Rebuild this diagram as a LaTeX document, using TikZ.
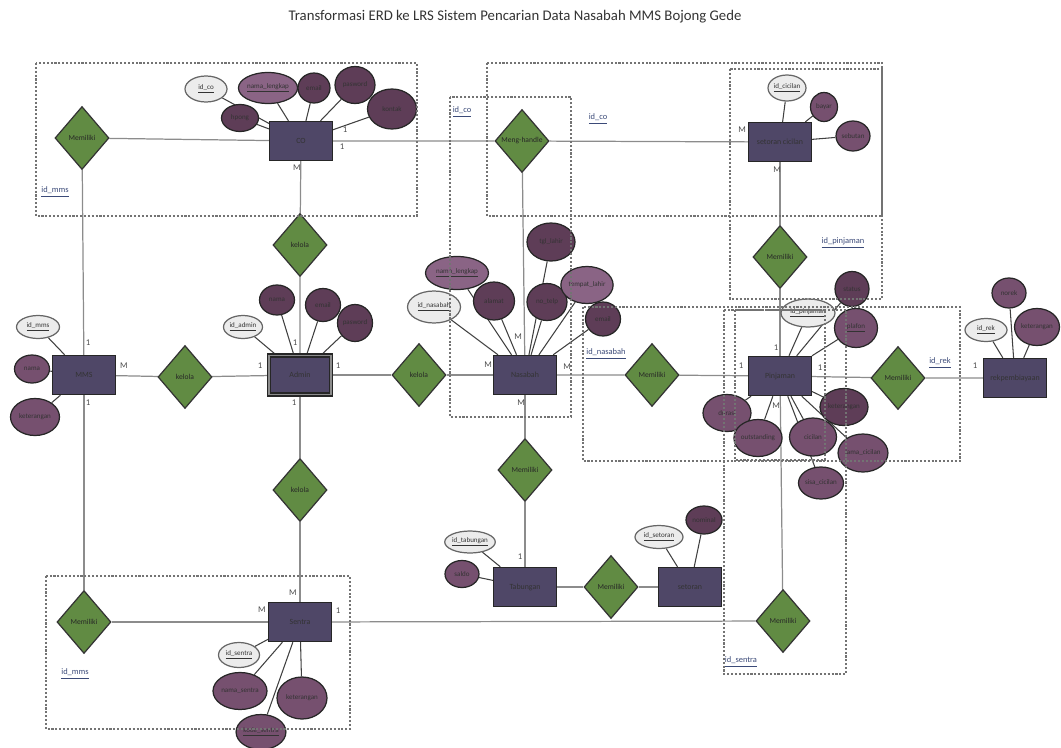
\documentclass[tikz,border=0pt]{standalone}
\usepackage{fontspec}
\setmainfont{Carlito}
\usetikzlibrary{shapes.geometric,backgrounds}
\definecolor{entfill}{HTML}{4F4767}
\definecolor{relfill}{HTML}{618B43}
\definecolor{attfill}{HTML}{76506F}
\definecolor{attdark}{HTML}{5E3D57}
\definecolor{attlight}{HTML}{8A6485}
\definecolor{keyfill}{HTML}{ECECEC}
\definecolor{linegray}{HTML}{8C8C8C}
\definecolor{fkblue}{HTML}{3B4A78}
\tikzset{
    entity/.style={rectangle, draw=black!85, line width=0.8pt, fill=entfill, minimum width=1.25cm, minimum height=0.78cm, inner sep=0pt, font=\fontsize{4.5}{5}\selectfont, text=black!80},
    rel/.style={diamond, draw=black!80, line width=0.7pt, fill=relfill, minimum width=1.08cm, minimum height=1.26cm, inner sep=0pt, font=\fontsize{4.3}{5}\selectfont, text=black!85},
    attr/.style={ellipse, draw=black!85, line width=0.7pt, fill=attfill, inner sep=0pt, font=\fontsize{4}{5}\selectfont, text=black!80},
    keyattr/.style={attr, fill=keyfill, draw=black!60},
    sz/.style 2 args={minimum width=#1*0.02cm, minimum height=#2*0.02cm},
    link/.style={draw=linegray, line width=0.7pt},
    attlink/.style={draw=black!75, line width=0.6pt},
    card/.style={font=\fontsize{5}{6}\selectfont, text=black!70, inner sep=0pt},
    fk/.style={font=\fontsize{4.8}{6}\selectfont, text=fkblue, inner sep=0pt},
    area/.style={draw=black!55, dash pattern=on 1.2pt off 1pt, line width=0.6pt}
}
\begin{document}
\begin{tikzpicture}[x=0.02cm, y=-0.02cm]
    \useasboundingbox (0,0) rectangle (1061,747);
    \node[font=\fontsize{8.4}{10}\selectfont, text=black!80] (ttl) at (515,17) {Transformasi ERD ke LRS Sistem Pencarian Data Nasabah MMS Bojong Gede};

    % Entities
    \node[entity] (co) at (301,141) {CO};
    \node[entity] (setcic) at (780,142) {setoran cicilan};
    \node[entity] (mms) at (84,375) {MMS};
    \node[entity, double=black!45, double distance=0.9pt] (admin) at (300,375) {Admin};
    \node[entity] (nasabah) at (525,375) {Nasabah};
    \node[entity] (pinjaman) at (780,376) {Pinjaman};
    \node[entity] (rekpem) at (1015,378) {rekpembiayaan};
    \node[entity] (tabungan) at (525,587) {Tabungan};
    \node[entity] (setoran) at (690,587) {setoran};
    \node[entity] (sentra) at (300,622) {Sentra};

    % Relations
    \node[rel] (memCo) at (82,138) {Memiliki};
    \node[rel] (handle) at (522,141) {Meng-handle};
    \node[rel] (kelCo) at (300,245) {kelola};
    \node[rel] (memSet) at (780,257) {Memiliki};
    \node[rel] (kelMms) at (185,377) {kelola};
    \node[rel] (kelNas) at (419,375) {kelola};
    \node[rel] (memNas) at (652,375) {Memiliki};
    \node[rel] (memRek) at (898,378) {Memiliki};
    \node[rel] (kelSen) at (300,490) {kelola};
    \node[rel] (memTab) at (525,470) {Memiliki};
    \node[rel] (memSetor) at (611,587) {Memiliki};
    \node[rel] (memMms) at (84,622) {Memiliki};
    \node[rel] (memSen) at (783,621) {Memiliki};

    % Attributes
    \node[keyattr, sz={42}{26}] (coId) at (206,89) {\underline{id\_co}};
    \node[attr, sz={59}{31}, fill=attlight] (coNama) at (268,88) {\underline{nama\_lengkap}};
    \node[attr, sz={32}{30}, fill=attdark] (coEmail) at (314,88) {email};
    \node[attr, sz={40}{37}, fill=attdark] (coPass) at (355,85) {pasword};
    \node[attr, sz={49}{40}, fill=attdark] (coKontak) at (392,109) {kontak};
    \node[attr, sz={37}{27}, fill=attdark] (coHp) at (240,118) {hpong};

    \node[keyattr, sz={38}{26}] (scId) at (787,88) {\underline{id\_cicilan}};
    \node[attr, sz={27}{29}] (scBayar) at (824,107) {bayar};
    \node[attr, sz={34}{30}] (scSeb) at (853,136) {sebutan};

    \node[keyattr, sz={43}{23}] (mmsId) at (38,327) {\underline{id\_mms}};
    \node[attr, sz={35}{28}] (mmsNama) at (32,369) {nama};
    \node[attr, sz={49}{37}] (mmsKet) at (35,417) {keterangan};

    \node[keyattr, sz={39}{23}] (adId) at (243,327) {\underline{id\_admin}};
    \node[attr, sz={35}{30}, fill=attdark] (adNama) at (277,300) {nama};
    \node[attr, sz={35}{33}, fill=attdark] (adEmail) at (323,305) {email};
    \node[attr, sz={35}{37}, fill=attdark] (adPass) at (355,323) {pasword};

    \node[keyattr, sz={53}{32}] (nsId) at (434,307) {\underline{id\_nasabah}};
    \node[attr, sz={63}{33}, fill=attlight] (nsNama) at (457,273) {\underline{nama\_lengkap}};
    \node[attr, sz={41}{38}, fill=attdark] (nsAlamat) at (494,301) {alamat};
    \node[attr, sz={48}{38}, fill=attdark] (nsTgl) at (551,242) {tgl\_lahir};
    \node[attr, sz={40}{37}, fill=attdark] (nsTelp) at (547,302) {no\_telp};
    \node[attr, sz={48}{37}, fill=attlight] (nsTempat) at (587,285) {tempat\_lahir};
    \node[attr, sz={35}{34}, fill=attdark] (nsEmail) at (603,319) {email};

    \node[keyattr, sz={54}{28}] (pjId) at (808,313) {\underline{id\_pinjaman}};
    \node[attr, sz={34}{35}, fill=attdark] (pjStatus) at (852,289) {status};
    \node[attr, sz={43}{39}] (pjPlafon) at (856,328) {\underline{plafon}};
    \node[attr, sz={48}{37}, fill=attdark] (pjKet) at (844,407) {keterangan};
    \node[attr, sz={48}{37}] (pjDurasi) at (727,413) {durasi};
    \node[attr, sz={48}{37}] (pjOut) at (758,438) {outstanding};
    \node[attr, sz={47}{38}] (pjCicilan) at (813,437) {cicilan};
    \node[attr, sz={48}{38}] (pjLama) at (863,453) {lama\_cicilan};
    \node[attr, sz={45}{32}] (pjSisa) at (821,483) {sisa\_cicilan};

    \node[keyattr, sz={42}{23}] (rkId) at (986,330) {\underline{id\_rek}};
    \node[attr, sz={34}{30}] (rkNorek) at (1009,293) {norek};
    \node[attr, sz={43}{37}] (rkKet) at (1037,327) {keterangan};

    \node[keyattr, sz={50}{22}] (tbId) at (470,542) {\underline{id\_tabungan}};
    \node[attr, sz={34}{27}] (tbSaldo) at (462,574) {saldo};
    \node[keyattr, sz={48}{23}] (stId) at (659,537) {\underline{id\_setoran}};
    \node[attr, sz={36}{28}, fill=attdark] (stNom) at (704,520) {nominal};

    \node[keyattr, sz={41}{25}] (snId) at (239,655) {\underline{id\_sentra}};
    \node[attr, sz={54}{37}] (snNama) at (240,691) {nama\_sentra};
    \node[attr, sz={50}{42}] (snKet) at (302,698) {keterangan};
    \node[attr, sz={48}{35}] (snKode) at (261,732) {\underline{kode\_sentra}};

    % foreign keys
    \node[fk] (fkMms1) at (55,192) {\underline{id\_mms}};
    \node[fk] (fkCo1) at (462,112) {\underline{id\_co}};
    \node[fk] (fkCo2) at (598,119) {\underline{id\_co}};
    \node[fk] (fkPinj) at (843,243) {\underline{id\_pinjaman}};
    \node[fk] (fkNas) at (606,354) {\underline{id\_nasabah}};
    \node[fk] (fkRek) at (940,363) {\underline{id\_rek}};
    \node[fk] (fkMms2) at (75,674) {\underline{id\_mms}};
    \node[fk] (fkSen) at (741,662) {\underline{id\_sentra}};

    % cardinalities
    \foreach [count=\i] \x/\y/\t in {345/130/1, 342/147/1, 297/168/M, 742/130/M, 777/170/M,
        88/343/1, 124/366/M, 88/403/1, 260/366/1, 338/366/1, 295/343/1, 294/403/1,
        488/365/M, 518/337/M, 567/367/M, 521/403/M, 741/366/1, 776/348/1, 820/368/1,
        776/406/M, 975/366/1, 520/557/1, 293/593/M, 262/610/M, 338/611/1}
        \node[card] (c\i) at (\x,\y) {\t};

    \begin{scope}[on background layer]
    % edges
    \draw[link] (memCo) -- (co);
    \draw[link] (memCo) -- (mms);
    \draw[link] (co) -- (handle) -- (setcic);
    \draw[link] (handle) -- (nasabah);
    \draw[link] (co) -- (kelCo) -- (admin);
    \draw[link] (setcic) -- (memSet) -- (pinjaman);
    \draw[link] (mms) -- (kelMms) -- (admin);
    \draw[link] (admin) -- (kelNas) -- (nasabah);
    \draw[link] (nasabah) -- (memNas) -- (pinjaman);
    \draw[link] (pinjaman) -- (memRek) -- (rekpem);
    \draw[link] (nasabah) -- (memTab) -- (tabungan);
    \draw[link] (tabungan) -- (memSetor) -- (setoran);
    \draw[link] (admin) -- (kelSen) -- (sentra);
    \draw[link] (mms) -- (memMms) -- (sentra);
    \draw[link] (sentra) -- (memSen) -- (pinjaman);

    % attribute lines
    \foreach \a in {coId,coNama,coEmail,coPass,coKontak,coHp} \draw[attlink] (\a) -- (co);
    \foreach \a in {scId,scBayar,scSeb} \draw[attlink] (\a) -- (setcic);
    \foreach \a in {mmsId,mmsNama,mmsKet} \draw[attlink] (\a) -- (mms);
    \foreach \a in {adId,adNama,adEmail,adPass} \draw[attlink] (\a) -- (admin);
    \foreach \a in {nsId,nsNama,nsAlamat,nsTgl,nsTelp,nsTempat,nsEmail} \draw[attlink] (\a) -- (nasabah);
    \foreach \a in {pjId,pjStatus,pjPlafon,pjKet,pjDurasi,pjOut,pjCicilan,pjLama,pjSisa} \draw[attlink] (\a) -- (pinjaman);
    \foreach \a in {rkId,rkNorek,rkKet} \draw[attlink] (\a) -- (rekpem);
    \foreach \a in {tbId,tbSaldo} \draw[attlink] (\a) -- (tabungan);
    \foreach \a in {stId,stNom} \draw[attlink] (\a) -- (setoran);
    \foreach \a in {snId,snNama,snKet,snKode} \draw[attlink] (\a) -- (sentra);
    \end{scope}

    % dashed areas
    \draw[area] (36,63) rectangle (417,216);
    \draw[area] (487,63) rectangle (882,216);
    \draw[area] (450,97) rectangle (571,417);
    \draw[area] (730,69) rectangle (882,299);
    \draw[area] (583,307) rectangle (960,461);
    \draw[area] (724,310) rectangle (846,674);
    \draw[area] (735,310) rectangle (825,460);
    \draw[area] (46,576) rectangle (350,729);
\end{tikzpicture}
\end{document}
